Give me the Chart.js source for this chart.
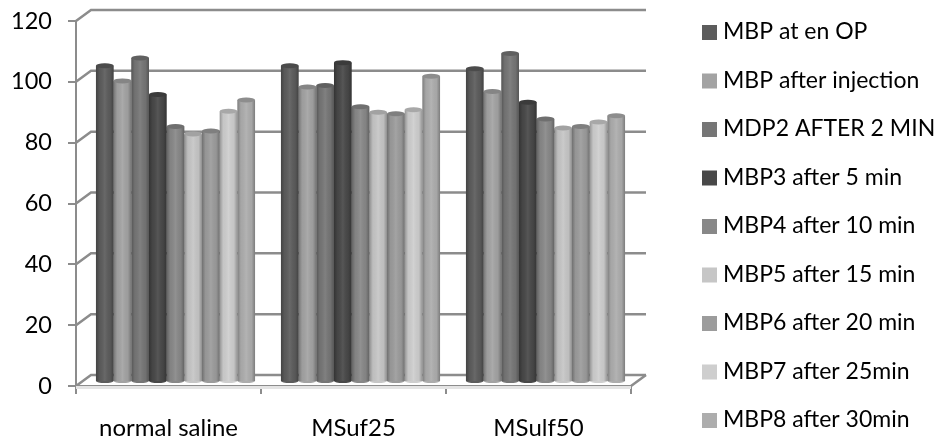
<!DOCTYPE html>
<html>
<head>
<meta charset="utf-8">
<style>
  html, body { margin: 0; padding: 0; background: #fff; }
  #wrap { width: 937px; height: 441px; }
</style>
<script src="https://cdn.jsdelivr.net/npm/chart.js@4/dist/chart.umd.min.js"></script>
</head>
<body>
<div id="wrap"><canvas id="mbp-chart"></canvas></div>
<script>
const categories = ['normal saline', 'MSuf25', 'MSulf50'];
const seriesNames = ['MBP at en OP', 'MBP after injection', 'MDP2 AFTER 2 MIN', 'MBP3 after 5 min', 'MBP4 after 10 min', 'MBP5 after 15 min', 'MBP6 after 20 min', 'MBP7 after 25min', 'MBP8 after 30min'];
const mbpAtEnd = [104, 104, 103];
const mbpInjection = [99, 97, 95.5];
const mdp2 = [106.5, 97.5, 108];
const mbp3 = [94.5, 105, 92];
const mbp4 = [84, 90.5, 86.5];
const mbp5 = [81.5, 88.7, 83.5];
const mbp6 = [82.5, 88.2, 84];
const mbp7 = [89, 89.5, 85.5];
const mbp8 = [92.7, 100.5, 87.5];
const seriesValues = [mbpAtEnd, mbpInjection, mdp2, mbp3, mbp4, mbp5, mbp6, mbp7, mbp8];
const barColors = ['#5c5c5c', '#a3a3a3', '#767676', '#484848', '#888888', '#c6c6c6', '#9c9c9c', '#cecece', '#adadad'];
const yTicks = [0, 20, 40, 60, 80, 100, 120];

const gridColor = '#8c8c8c';
const fontName = 'Lato, Carlito, sans-serif';
const depthX = 15, depthY = 11;   // back wall offset
const barX = 7, barY = 4;         // bars stand mid depth on the floor

// back wall, side wall and floor of the fake 3D box
const wallPlugin = {
  id: 'wall',
  beforeDatasetsDraw(chart) {
    const { ctx, chartArea: a, scales: { y } } = chart;
    ctx.save();
    ctx.strokeStyle = gridColor;
    ctx.lineWidth = 2.5;
    yTicks.forEach(v => {
      const py = y.getPixelForValue(v);
      ctx.beginPath();
      ctx.moveTo(a.left, py);
      ctx.lineTo(a.left + depthX, py - depthY);
      ctx.lineTo(a.right + depthX, py - depthY);
      ctx.stroke();
    });
    ctx.beginPath();
    ctx.moveTo(a.right, a.bottom);
    ctx.lineTo(a.right + depthX, a.bottom - depthY);
    ctx.stroke();
    ctx.fillStyle = '#e4e4e4';
    ctx.fillRect(a.left, a.bottom, a.right - a.left, 3);
    ctx.restore();
    ctx.save();
    ctx.translate(barX, -barY);
  },
  afterDatasetsDraw(chart) {
    const { ctx } = chart;
    chart.data.datasets.forEach((ds, i) => {
      chart.getDatasetMeta(i).data.forEach(bar => {
        const w = bar.width, left = bar.x - w / 2;
        const shade = ctx.createLinearGradient(left, 0, left + w, 0);
        shade.addColorStop(0, 'rgba(0,0,0,0.28)');
        shade.addColorStop(0.2, 'rgba(0,0,0,0.04)');
        shade.addColorStop(0.5, 'rgba(255,255,255,0.08)');
        shade.addColorStop(0.8, 'rgba(0,0,0,0.04)');
        shade.addColorStop(1, 'rgba(0,0,0,0.28)');
        ctx.fillStyle = shade;
        ctx.fillRect(left, bar.y, w, bar.base - bar.y);
        // rounded foot
        ctx.fillStyle = ds.backgroundColor;
        ctx.beginPath();
        ctx.ellipse(bar.x, bar.base, w / 2, 2, 0, 0, Math.PI);
        ctx.fill();
        // top cap
        ctx.beginPath();
        ctx.ellipse(bar.x, bar.y, w / 2, 2.5, 0, 0, Math.PI * 2);
        ctx.fill();
        ctx.fillStyle = 'rgba(0,0,0,0.18)';
        ctx.fill();
      });
    });
    ctx.restore();
  }
};

// native legend can't spread over the full height, so draw it here
const legendPlugin = {
  id: 'sideLegend',
  afterDraw(chart) {
    const { ctx } = chart;
    ctx.save();
    ctx.font = '23px ' + fontName;
    ctx.textBaseline = 'middle';
    seriesNames.forEach((name, i) => {
      const y = 32 + i * 48.5;
      ctx.fillStyle = barColors[i];
      ctx.fillRect(702, y - 7, 15, 15);
      ctx.fillStyle = '#000';
      ctx.fillText(name, 723, y);
    });
    ctx.restore();
  }
};

new Chart(document.getElementById('mbp-chart').getContext('2d'), {
  type: 'bar',
  data: {
    labels: categories,
    datasets: seriesNames.map((name, i) => ({
      label: name,
      data: seriesValues[i],
      backgroundColor: barColors[i],
      borderWidth: 0,
      clip: false,
    })),
  },
  options: {
    responsive: true,
    maintainAspectRatio: false,
    animation: false,
    layout: { padding: { top: 21, left: 0, right: 306, bottom: 0 } },
    scales: {
      x: {
        offset: true,
        grid: { drawOnChartArea: false, color: gridColor, lineWidth: 2, tickLength: 8 },
        border: { color: gridColor, width: 2 },
        ticks: { color: '#000', font: { family: fontName, size: 24 }, padding: 20, maxRotation: 0 },
        afterFit(s) { s.height = 55; },
      },
      y: {
        min: 0,
        max: 120,
        grid: { drawOnChartArea: false, color: gridColor, lineWidth: 2, tickLength: 8 },
        border: { color: gridColor, width: 2 },
        ticks: { stepSize: 20, color: '#000', font: { family: fontName, size: 23.5 }, padding: 16 },
        afterFit(s) { s.width = 76; s.paddingTop = 0; s.paddingBottom = 0; },
      },
    },
    datasets: { bar: { barPercentage: 1, categoryPercentage: 0.86 } },
    plugins: {
      tooltip: { enabled: false },
      legend: { display: false },
    },
  },
  plugins: [wallPlugin, legendPlugin],
});
</script>
</body>
</html>
